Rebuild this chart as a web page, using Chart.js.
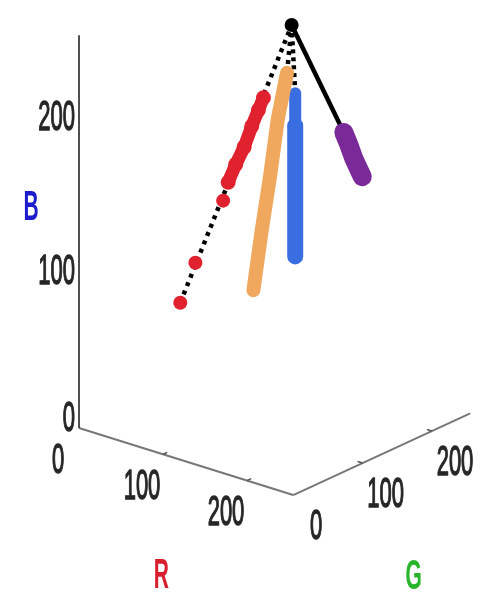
<!DOCTYPE html>
<html><head><meta charset="utf-8">
<script src="https://cdn.jsdelivr.net/npm/chart.js@4/dist/chart.umd.min.js"></script>
<style>html,body{margin:0;padding:0;background:#fff}canvas{display:block}</style>
</head><body>
<canvas id="c" width="496" height="607"></canvas>
<script>
// ---- data: RGB coordinates ----
const axisNames = ['R', 'G', 'B'];
const rTicks = [0, 100, 200];
const gTicks = [0, 100, 200];
const bTicks = [0, 100, 200];
const axisMax = 255;

const apexR = [135], apexG = [143], apexB = [255];

const redDotR = [71, 89, 122];
const redDotG = [60, 60, 60];
const redDotB = [81, 110, 156];

const redR = [128, 137, 147, 156, 164, 170];
const redG = [60, 60, 60, 60, 60, 60];
const redB = [169, 182, 195, 210, 222, 231];

const orangeR = [125, 135, 145, 154, 165];
const orangeG = [100, 100, 100, 100, 100];
const orangeB = [90, 131, 168, 206, 238];

const blueR = [150, 150, 150, 150, 150, 150, 150];
const blueG = [130, 130, 130, 130, 130, 130, 130];
const blueB = [110, 134, 160, 179, 195, 206, 216];

const purpleR = [150, 156, 162, 167, 172];
const purpleG = [200, 200, 200, 200, 200];
const purpleB = [176, 169, 161, 156, 151];

// ---- orthographic view used to flatten the 3-D space ----
function proj(r, g, b) {
  return { x: 0.84 * r + 0.694 * g, y: -0.263 * r + 0.32 * g + 1.54 * b };
}
function pts(R, G, B) { return R.map((r, i) => proj(r, G[i], B[i])); }

const apex = pts(apexR, apexG, apexB);
const redDots = pts(redDotR, redDotG, redDotB);
const red = pts(redR, redG, redB);
const orange = pts(orangeR, orangeG, orangeB);
const blue = pts(blueR, blueG, blueB);
const purple = pts(purpleR, purpleG, purpleB);

const C = { red: '#e0222e', orange: '#f0a85e', blue: '#3a6ee0', purple: '#7a2a98', black: '#000000' };

const datasets = [
  // axes
  { data: [proj(0,0,0), proj(0,0,axisMax)], showLine: true, borderColor: '#222', borderWidth: 1.6, pointRadius: 0, order: 20 },
  { data: [proj(0,0,0), proj(axisMax,0,0)], showLine: true, borderColor: '#777', borderWidth: 2, pointRadius: 0, order: 20 },
  { data: [proj(axisMax,0,0), proj(axisMax,axisMax,0)], showLine: true, borderColor: '#777', borderWidth: 2, pointRadius: 0, order: 20 },
  // links to apex
  { data: [redDots[0], apex[0]], showLine: true, borderColor: C.black, borderWidth: 4.5, borderDash: [4, 5], pointRadius: 0, order: 10 },
  { data: [orange[orange.length-1], apex[0]], showLine: true, borderColor: C.black, borderWidth: 4.5, borderDash: [4, 5], pointRadius: 0, order: 10 },
  { data: [blue[blue.length-1], apex[0]], showLine: true, borderColor: C.black, borderWidth: 4.5, borderDash: [4, 4], pointRadius: 0, order: 10 },
  { data: [purple[0], apex[0]], showLine: true, borderColor: C.black, borderWidth: 4.5, pointRadius: 0, order: 10 },
  // clusters
  { data: redDots, showLine: false, pointRadius: 7, backgroundColor: C.red, borderWidth: 0, order: 5 },
  { data: red, showLine: true, borderColor: C.red, borderWidth: 13, borderCapStyle: 'round', pointRadius: 7.5, backgroundColor: C.red, pointBorderWidth: 0, order: 5 },
  { data: orange, showLine: true, borderColor: C.orange, borderWidth: 14, borderCapStyle: 'round', pointRadius: 0, order: 5 },
  { data: blue, showLine: true, borderColor: C.blue, borderCapStyle: 'round', borderJoinStyle: 'round', borderWidth: 16,
    segment: { borderWidth: c => (c.p0DataIndex >= 4 ? 12 : 16) }, pointRadius: 0, order: 5 },
  { data: purple, showLine: true, borderColor: C.purple, borderWidth: 19, borderCapStyle: 'round', pointRadius: 0, order: 5 },
  // apex
  { data: apex, showLine: false, pointRadius: 7, backgroundColor: C.black, borderWidth: 0, order: 1 }
];

function textAt(ctx, txt, x, y, font, color, align, sy, sw) {
  ctx.save();
  ctx.translate(x, y);
  ctx.scale(1, sy);
  ctx.font = font;
  ctx.fillStyle = color;
  ctx.strokeStyle = color;
  ctx.lineWidth = sw || 0;
  ctx.textAlign = align;
  ctx.textBaseline = 'middle';
  ctx.fillText(txt, 0, 0);
  if (sw) ctx.strokeText(txt, 0, 0);
  ctx.restore();
}

const axisText = {
  id: 'axisText',
  afterDatasetsDraw(chart) {
    const ctx = chart.ctx, sx = chart.scales.x, sy = chart.scales.y;
    const P = (r, g, b) => { const p = proj(r, g, b); return { x: sx.getPixelForValue(p.x), y: sy.getPixelForValue(p.y) }; };
    const tickFont = '22px "Liberation Sans", Arial, sans-serif';
    const tcol = '#262626';
    ctx.save();
    ctx.strokeStyle = '#555'; ctx.lineWidth = 1.5;
    rTicks.forEach(t => { if (t > 0) { const a = P(t,0,0), b = P(t,6,0); ctx.beginPath(); ctx.moveTo(a.x,a.y); ctx.lineTo(b.x,b.y); ctx.stroke(); } });
    gTicks.forEach(t => { if (t > 0) { const a = P(axisMax,t,0), b = P(axisMax-6,t,0); ctx.beginPath(); ctx.moveTo(a.x,a.y); ctx.lineTo(b.x,b.y); ctx.stroke(); } });
    ctx.restore();
    rTicks.forEach(t => { const p = P(t, 0, 0); textAt(ctx, String(t), p.x - 21, p.y + 33, tickFont, tcol, 'center', 1.9, 0.7); });
    gTicks.forEach(t => { const p = P(axisMax, t, 0); textAt(ctx, String(t), p.x + 23, p.y + 32, tickFont, tcol, 'center', 1.9, 0.7); });
    bTicks.forEach(t => { const p = P(0, 0, t); textAt(ctx, String(t), p.x - 4, p.y - (t === 0 ? 9 : 2), tickFont, tcol, 'right', 1.9, 0.7); });
    const lf = 'bold 21px "Liberation Sans", Arial, sans-serif';
    const rl = P(axisMax * 0.45, 0, 0), gl = P(axisMax, axisMax * 0.5, 0), bl = P(0, 0, axisMax * 0.5);
    textAt(ctx, axisNames[0], rl.x - 14, rl.y + 118, lf, '#d81f2f', 'center', 2.0);
    textAt(ctx, axisNames[1], gl.x + 32, gl.y + 123, lf, '#27b52b', 'center', 2.0);
    textAt(ctx, axisNames[2], bl.x - 48, bl.y - 23, lf, '#1c1ccc', 'center', 2.0);
  }
};

new Chart(document.getElementById('c'), {
  type: 'scatter',
  data: { datasets },
  options: {
    responsive: false,
    animation: false,
    devicePixelRatio: 1,
    layout: { padding: 0, autoPadding: false },
    plugins: { legend: { display: false }, tooltip: { enabled: false } },
    scales: {
      x: { type: 'linear', display: false, min: -79, max: 417 },
      y: { type: 'linear', display: false, min: -179, max: 428 }
    }
  },
  plugins: [axisText]
});
</script>
</body></html>
